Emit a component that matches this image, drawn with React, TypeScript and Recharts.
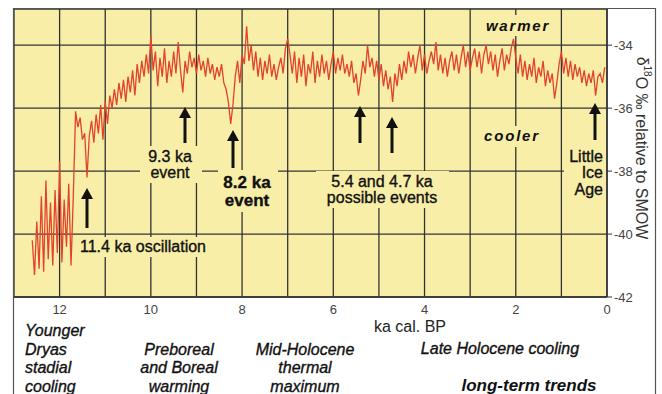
import { CartesianGrid, Line, LineChart, XAxis, YAxis } from "recharts";

// GISP2-style δ18O record, one sample every 50 yr from 12.6 ka to 0.05 ka
const SAMPLE_START_KA = 12.6;
const SAMPLE_STEP_KA = 0.05;

const d18O = [
  // 12.60 – 12.05
  -40.2, -41.3, -39.6, -41.1, -38.8, -41.2, -38.3, -40.8, -39.0, -41.0, -38.6, -40.6,
  // 12.00 – 11.05
  -37.7, -40.9, -38.9, -40.4, -38.4, -41.0, -38.8, -36.1, -36.6, -36.3,
  -37.0, -36.8, -38.2, -36.9, -36.4, -37.1, -36.2, -36.8, -35.9, -37.0,
  // 11.00 – 10.05
  -35.8, -36.5, -35.6, -36.0, -35.4, -35.9, -35.2, -35.7, -35.1, -35.8,
  -35.0, -35.5, -34.8, -35.6, -34.6, -35.2, -34.5, -35.0, -34.3, -34.9,
  // 10.00 – 9.05
  -33.7, -34.8, -34.2, -35.3, -34.4, -35.0, -34.1, -35.2, -34.5, -35.0,
  -34.2, -34.9, -33.9, -34.8, -35.5, -34.5, -34.9, -34.2, -34.7, -34.4,
  // 9.00 – 8.05
  -34.9, -34.3, -34.8, -34.5, -35.0, -34.4, -34.9, -34.6, -35.1, -34.7,
  -35.0, -34.6, -35.2, -35.4, -35.8, -36.5, -35.9, -35.0, -34.5, -35.2,
  // 8.00 – 7.05
  -34.3, -34.6, -33.4, -34.5, -34.0, -34.8, -34.2, -35.0, -34.4, -35.1,
  -34.5, -34.9, -34.3, -35.0, -34.6, -35.1, -34.7, -34.4, -34.9, -34.1,
  // 7.00 – 6.05
  -33.8, -34.3, -34.9, -34.2, -35.2, -34.4, -35.0, -34.3, -35.3, -34.6,
  -34.9, -34.2, -35.2, -34.5, -35.0, -34.3, -34.9, -34.5, -35.1, -34.6,
  // 6.00 – 5.05
  -34.2, -34.9, -34.4, -34.8, -34.3, -34.9, -34.6, -35.0, -34.5, -35.2,
  -34.9, -35.6, -35.1, -34.5, -34.9, -34.0, -34.7, -34.4, -35.0, -34.5,
  // 5.00 – 4.05
  -35.1, -34.6, -35.3, -34.8, -35.4, -35.0, -35.8, -34.9, -35.3, -34.6,
  -35.1, -34.5, -34.9, -34.2, -34.7, -34.3, -34.9, -34.4, -34.0, -34.8,
  // 4.00 – 3.05
  -34.3, -34.9, -34.5, -34.2, -34.6, -33.9, -34.8, -34.3, -34.9, -34.4,
  -35.0, -34.5, -34.2, -34.8, -34.3, -34.9, -34.4, -34.0, -34.7, -34.2,
  // 3.00 – 2.05
  -34.8, -34.4, -34.1, -34.7, -34.2, -34.9, -34.3, -34.0, -34.6, -34.2,
  -34.8, -34.3, -35.0, -34.5, -34.1, -34.8, -34.3, -34.6, -34.1, -33.8,
  // 2.00 – 1.05
  -34.4, -34.9, -34.3, -35.0, -34.5, -35.1, -34.6, -35.0, -34.4, -35.2,
  -34.7, -35.0, -34.5, -35.3, -34.8, -35.2, -34.9, -35.7, -35.2, -34.6,
  // 1.00 – 0.05
  -34.2, -34.9, -34.4, -35.0, -34.5, -35.1, -34.6, -35.0, -34.7, -35.2,
  -34.8, -35.3, -34.9, -35.2, -34.8, -35.6, -35.0, -34.9, -35.2, -34.7,
];

const xTicks = [0, 1, 2, 3, 4, 5, 6, 7, 8, 9, 10, 11, 12];
const yTicks = [-42, -40, -38, -36, -34];

const data = d18O.map((v, i) => ({
  age: +(SAMPLE_START_KA - i * SAMPLE_STEP_KA).toFixed(2),
  d18O: v,
}));

const YELLOW = "#f8eea8";
const INK = "#111";
const FONT = "'Liberation Sans', Arial, sans-serif";

function Arrow({ x, tip, tail }: { x: number; tip: number; tail: number }) {
  return (
    <g>
      <line x1={x} y1={tail} x2={x} y2={tip + 8} stroke={INK} strokeWidth={3} />
      <polygon points={`${x - 6},${tip + 11} ${x + 6},${tip + 11} ${x},${tip}`} fill={INK} />
    </g>
  );
}

function Overlay() {
  return (
    <svg
      width={662}
      height={394}
      style={{ position: "absolute", left: 0, top: 0, pointerEvents: "none" }}
      fontFamily={FONT}
    >
      {/* frame */}
      <path d="M13.5 400 V8.5 H655.5 V400" fill="none" stroke="#555" strokeWidth={1.2} />

      {/* label backgrounds */}
      <rect x={77} y={237} width={140} height={20} fill={YELLOW} />
      <rect x={140} y={146} width={62} height={37} fill={YELLOW} />
      <rect x={218} y={170} width={60} height={42} fill={YELLOW} />
      <rect x={316} y={171} width={133} height={37} fill={YELLOW} />
      <rect x={482} y={15} width={73} height={21} fill={YELLOW} />
      <rect x={480} y={126} width={65} height={21} fill={YELLOW} />
      <rect x={564} y={146} width={42} height={54} fill={YELLOW} />

      <g fill={INK} stroke={INK} strokeWidth={0.35} fontSize={16}>
        <text x={80} y={252}>11.4 ka oscillation</text>
        <text x={170} y={162} textAnchor="middle">9.3 ka</text>
        <text x={170} y={178} textAnchor="middle">event</text>
        <text x={247} y={188} textAnchor="middle" fontWeight="bold" fontSize={17}>8.2 ka</text>
        <text x={247} y={206} textAnchor="middle" fontWeight="bold" fontSize={17}>event</text>
        <text x={382} y={187} textAnchor="middle">5.4 and 4.7 ka</text>
        <text x={382} y={203} textAnchor="middle">possible events</text>
        <text x={603} y={162} textAnchor="end">Little</text>
        <text x={603} y={178} textAnchor="end">Ice</text>
        <text x={603} y={195} textAnchor="end">Age</text>
        <text x={518} y={31} textAnchor="middle" fontWeight="bold" fontStyle="italic" fontSize={15} letterSpacing={1.8} strokeWidth={0}>warmer</text>
        <text x={512} y={141} textAnchor="middle" fontWeight="bold" fontStyle="italic" fontSize={15} letterSpacing={1.8} strokeWidth={0}>cooler</text>
      </g>

      <Arrow x={87} tip={188} tail={228} />
      <Arrow x={185} tip={107} tail={143} />
      <Arrow x={233} tip={130} tail={168} />
      <Arrow x={360} tip={106} tail={143} />
      <Arrow x={392} tip={117} tail={153} />
      <Arrow x={595} tip={103} tail={140} />

      {/* axis titles */}
      <text
        transform="translate(642,148) rotate(90)"
        textAnchor="middle"
        dominantBaseline="central"
        fontSize={16}
        fill="#333"
      >
        δ<tspan fontSize={10} dy={-6}>18</tspan>
        <tspan dy={6}>O ‰ relative to SMOW</tspan>
      </text>
      <text x={410} y={332} textAnchor="middle" fontSize={16} fill="#222">ka cal. BP</text>

      {/* long-term trend labels */}
      <g fill={INK} stroke={INK} strokeWidth={0.35} fontSize={16} fontStyle="italic">
        <text x={25} y={336}>Younger</text>
        <text x={25} y={355}>Dryas</text>
        <text x={25} y={373}>stadial</text>
        <text x={25} y={392}>cooling</text>
        <text x={179} y={355} textAnchor="middle">Preboreal</text>
        <text x={179} y={373} textAnchor="middle">and Boreal</text>
        <text x={179} y={392} textAnchor="middle">warming</text>
        <text x={305} y={355} textAnchor="middle">Mid-Holocene</text>
        <text x={305} y={373} textAnchor="middle">thermal</text>
        <text x={305} y={392} textAnchor="middle">maximum</text>
        <text x={500} y={354} textAnchor="middle">Late Holocene cooling</text>
        <text x={529} y={391} textAnchor="middle" fontWeight="bold" fontSize={17} strokeWidth={0}>long-term trends</text>
      </g>
    </svg>
  );
}

export default function App() {
  return (
    <div style={{ position: "relative", width: 662, height: 394, background: "#fff" }}>
      <style>{"body{margin:0}"}</style>
      <LineChart
        width={662}
        height={394}
        data={data}
        margin={{ top: 9, right: 15, bottom: 77, left: 14 }}
      >
        <CartesianGrid fill={YELLOW} stroke="#333" strokeWidth={1.3} />
        <XAxis
          dataKey="age"
          type="number"
          domain={[0, 13]}
          reversed
          allowDataOverflow
          ticks={xTicks}
          tickFormatter={(v: number) => (v % 2 === 0 ? String(v) : "")}
          tickLine={false}
          axisLine={{ stroke: "#333", strokeWidth: 1.5 }}
          tick={{ fill: "#444", fontSize: 13, fontFamily: FONT }}
          height={20}
        />
        <YAxis
          orientation="right"
          type="number"
          domain={[-42, -32.85]}
          allowDataOverflow
          ticks={yTicks}
          width={40}
          tickSize={5}
          tickLine={{ stroke: "#333" }}
          axisLine={{ stroke: "#333", strokeWidth: 1.5 }}
          tick={{ fill: "#444", fontSize: 13, fontFamily: FONT }}
        />
        <Line
          type="linear"
          dataKey="d18O"
          stroke="#e2432b"
          strokeWidth={1.3}
          dot={false}
          isAnimationActive={false}
        />
      </LineChart>
      <Overlay />
    </div>
  );
}
